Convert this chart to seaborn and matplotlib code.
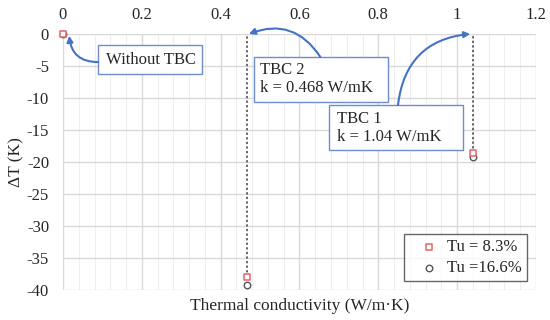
import numpy as np
import pandas as pd
import matplotlib
matplotlib.use("Agg")
import matplotlib.pyplot as plt
from matplotlib.patches import Rectangle
from matplotlib.ticker import MultipleLocator
import seaborn as sns

# ข้อมูล (อ่านจากรูป)
k_values = [0.0, 0.468, 1.04]
dT_tu83 = [0.0, -38.0, -18.6]
dT_tu166 = [0.0, -39.2, -19.2]
series_labels = ["Tu = 8.3%", "Tu =16.6%"]
x_ticks = [0, 0.2, 0.4, 0.6, 0.8, 1.0, 1.2]
y_ticks = [0, -5, -10, -15, -20, -25, -30, -35, -40]

sns.set_style("white")
plt.rcParams["font.family"] = ["Liberation Serif", "DejaVu Serif"]
plt.rcParams["axes.unicode_minus"] = False

fig = plt.figure(figsize=(5.5, 3.2), dpi=100)
ax = fig.add_axes([0.1145, 0.094, 0.86, 0.80])

# เส้นประแนวตั้งจาก 0 ลงไปถึงจุดข้อมูล
ax.vlines(k_values[1:], dT_tu83[1:], 0, colors="#404040",
          linestyles=(0, (1.5, 1.5)), linewidth=1.1, zorder=2)

df = pd.DataFrame({"k": k_values * 2,
                   "dT": dT_tu166 + dT_tu83,
                   "series": [series_labels[1]] * 3 + [series_labels[0]] * 3})
sns.scatterplot(data=df[df["series"] == series_labels[1]], x="k", y="dT",
                marker="o", s=22, facecolor="white", edgecolor="#555555",
                linewidth=1.0, ax=ax, zorder=4, label=series_labels[1],
                clip_on=False)
sns.scatterplot(data=df[df["series"] == series_labels[0]], x="k", y="dT",
                marker="s", s=24, facecolor="white", edgecolor="#E8636A",
                linewidth=1.1, ax=ax, zorder=5, label=series_labels[0],
                clip_on=False)

ax.set_xlim(0, 1.2)
ax.set_ylim(-40, 0)
ax.set_xticks(x_ticks)
ax.set_xticklabels([f"{v:g}" for v in x_ticks])
ax.set_yticks(y_ticks)
ax.set_yticklabels([f"{v:g}" for v in y_ticks])
ax.xaxis.set_minor_locator(MultipleLocator(0.04))
ax.xaxis.tick_top()
ax.xaxis.set_label_position("bottom")
ax.tick_params(which="both", length=0, labelsize=12)
ax.tick_params(axis="x", pad=8)
ax.tick_params(axis="y", pad=10)
ax.grid(which="major", color="#D9D9D9", linewidth=1.0)
ax.grid(which="minor", axis="x", color="#EEEEEE", linewidth=0.8)
ax.set_axisbelow(True)
for s in ax.spines.values():
    s.set_visible(False)

ax.set_xlabel("Thermal conductivity (W/m·K)", fontsize=12.5, labelpad=6)
ax.set_ylabel("ΔT (K)", fontsize=12.5, labelpad=2)

# กล่องข้อความ + ลูกศร
blue = "#4472C4"
box_c = "#6F8DC8"
boxes = [
    ((0.0886, -6.25), 0.265, 4.53, (0.109, -4.0), "Without TBC"),
    ((0.4835, -10.6), 0.34, 7.0, (0.501, -7.0), "TBC 2\nk = 0.468 W/mK"),
    ((0.676, -18.1), 0.34, 7.0, (0.696, -14.7), "TBC 1\nk = 1.04 W/mK"),
]
for (x0, y0), w, h, (tx, ty), txt in boxes:
    ax.add_patch(Rectangle((x0, y0), w, h, facecolor="white",
                           edgecolor=box_c, linewidth=1.0, zorder=6))
    ax.text(tx, ty, txt, fontsize=12, va="center", ha="left",
            linespacing=1.2, zorder=7)

arrows = [
    ((0.0886, -4.4), (0.016, -0.3), -0.45),
    ((0.653, -3.6), (0.472, 0.0), 0.4),
    ((0.85, -11.1), (1.033, 0.0), -0.4),
]
for start, end, rad in arrows:
    ax.annotate("", xy=end, xytext=start,
                arrowprops=dict(arrowstyle="-|>,head_length=0.35,head_width=0.18",
                                color=blue, lw=1.5, shrinkA=0, shrinkB=0,
                                connectionstyle=f"arc3,rad={rad}"),
                zorder=8)

# legend: เรียงให้ Tu = 8.3% อยู่บน
handles, labels = ax.get_legend_handles_labels()
order = [labels.index(l) for l in series_labels]
leg = ax.legend([handles[i] for i in order], [labels[i] for i in order],
                loc="lower right", bbox_to_anchor=(0.981, 0.035),
                borderaxespad=0, fontsize=12,
                frameon=True, fancybox=False, edgecolor="#404040",
                handletextpad=-0.1, handlelength=2.4, borderpad=0.3,
                labelspacing=0.3)
leg.get_frame().set_linewidth(1.0)

fig.savefig("out.png", dpi=100)
